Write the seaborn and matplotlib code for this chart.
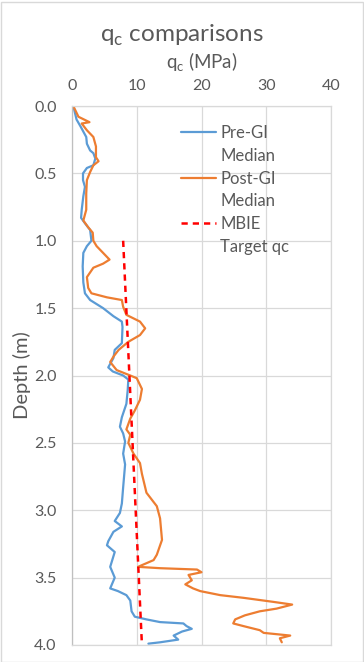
import matplotlib
matplotlib.use('Agg')
import matplotlib.pyplot as plt
import seaborn as sns
import pandas as pd
from matplotlib.lines import Line2D
from matplotlib.patches import Rectangle
from matplotlib.ticker import FormatStrFormatter

# ---------------- data ----------------
pre_depth = [0.0, 0.10, 0.15, 0.23, 0.28, 0.33, 0.35, 0.39, 0.44, 0.46, 0.50, 0.55, 0.60, 0.67,
             0.77, 0.83, 0.87, 0.92, 1.00, 1.04, 1.09, 1.19, 1.31, 1.39, 1.44, 1.50, 1.56, 1.60,
             1.64, 1.76, 1.81, 1.87, 1.94, 1.97, 2.00, 2.03, 2.11, 2.21, 2.31, 2.38, 2.43, 2.49,
             2.58, 2.66, 2.83, 2.95, 3.02, 3.08, 3.12, 3.16, 3.23, 3.26, 3.31, 3.42, 3.50, 3.58,
             3.60, 3.63, 3.67, 3.75, 3.79, 3.81, 3.83, 3.84, 3.86, 3.88, 3.90, 3.93, 3.96, 3.98, 3.99]
pre_qc = [0.2, 0.7, 1.3, 2.2, 2.3, 2.8, 3.3, 3.6, 3.3, 2.3, 1.7, 1.7, 2.0, 1.75,
          1.5, 1.4, 2.0, 2.8, 3.0, 2.3, 1.75, 1.65, 1.75, 2.0, 2.8, 4.8, 6.4, 7.7,
          7.8, 7.7, 6.6, 6.4, 5.6, 6.3, 7.9, 8.7, 8.6, 8.4, 7.7, 7.4, 7.9, 8.2,
          7.9, 8.2, 7.9, 7.7, 7.4, 6.6, 7.7, 6.4, 5.6, 5.4, 6.6, 5.9, 6.6, 5.9,
          7.1, 8.4, 9.0, 9.2, 9.7, 11.5, 13.6, 17.2, 17.7, 18.5, 17.0, 15.7, 16.4, 13.6, 11.8]

post_depth = [0.0, 0.08, 0.12, 0.13, 0.18, 0.23, 0.30, 0.38, 0.41, 0.44, 0.49, 0.55, 0.65, 0.77,
              0.85, 0.90, 0.94, 1.00, 1.04, 1.09, 1.14, 1.17, 1.20, 1.27, 1.35, 1.39, 1.42, 1.44,
              1.49, 1.55, 1.60, 1.65, 1.70, 1.75, 1.81, 1.86, 1.90, 1.96, 2.00, 2.02, 2.10, 2.18,
              2.26, 2.32, 2.40, 2.44, 2.50, 2.58, 2.65, 2.73, 2.87, 2.97, 3.06, 3.22, 3.33, 3.37,
              3.42, 3.43, 3.44, 3.46, 3.48, 3.52, 3.55, 3.58, 3.60, 3.63, 3.65, 3.68, 3.70, 3.73,
              3.75, 3.78, 3.81, 3.84, 3.86, 3.89, 3.91, 3.93, 3.95, 3.98]
post_qc = [0.2, 1.0, 2.7, 1.5, 2.3, 3.3, 3.7, 3.7, 4.1, 3.3, 2.8, 2.3, 2.2, 2.2,
           1.75, 2.5, 3.2, 3.3, 3.8, 4.8, 5.8, 4.8, 3.3, 2.3, 2.5, 3.0, 5.4, 7.7,
           7.9, 8.4, 10.5, 11.3, 10.5, 8.7, 7.2, 6.4, 5.9, 6.9, 9.0, 10.0, 10.8, 10.5,
           9.7, 9.0, 8.4, 9.0, 8.7, 9.5, 10.5, 10.8, 11.5, 13.1, 13.6, 13.9, 13.1, 12.6,
           10.2, 13.6, 19.3, 20.0, 18.0, 18.5, 17.5, 18.7, 19.8, 22.9, 26.5, 31.1, 34.0, 31.6,
           29.0, 26.7, 25.2, 24.9, 26.5, 29.0, 29.6, 33.7, 32.1, 32.4]

target_depth = [1.0, 4.0]
target_qc = [7.9, 10.8]

x_ticks = [0, 10, 20, 30, 40]
y_ticks = [0.0, 0.5, 1.0, 1.5, 2.0, 2.5, 3.0, 3.5, 4.0]

series_labels = ["Pre-GI", "Median", "Post-GI", "Median", "MBIE", "Target qc"]

# ---------------- style ----------------
sns.set_theme(style='white')
plt.rcParams['font.family'] = ['Lato', 'DejaVu Sans']
plt.rcParams['mathtext.fontset'] = 'custom'
plt.rcParams['mathtext.rm'] = 'Lato'
TXT = '#595959'
GRID = '#d9d9d9'
BLUE = '#5B9BD5'
ORANGE = '#ED7D31'
RED = '#FF0000'

W, H = 364, 662
fig = plt.figure(figsize=(W / 100, H / 100), dpi=100)
ax = fig.add_axes([72 / W, 1 - 645 / H, (331 - 72) / W, (645 - 106) / H])

pre_df = pd.DataFrame({'qc': pre_qc, 'depth': pre_depth})
post_df = pd.DataFrame({'qc': post_qc, 'depth': post_depth})
tgt_df = pd.DataFrame({'qc': target_qc, 'depth': target_depth})

sns.lineplot(data=pre_df, x='qc', y='depth', sort=False, estimator=None, ax=ax,
             color=BLUE, lw=1.6)
sns.lineplot(data=post_df, x='qc', y='depth', sort=False, estimator=None, ax=ax,
             color=ORANGE, lw=1.6)
sns.lineplot(data=tgt_df, x='qc', y='depth', sort=False, estimator=None, ax=ax,
             color=RED, lw=1.8, dashes=False, linestyle=(0, (2.5, 2.0)))

ax.set_xlim(0, 40)
ax.set_ylim(4.0, 0.0)
ax.set_xticks(x_ticks)
ax.set_yticks(y_ticks)
ax.yaxis.set_major_formatter(FormatStrFormatter('%.1f'))
ax.xaxis.tick_top()
ax.tick_params(axis='both', length=0, labelsize=11.5, labelcolor=TXT)
ax.tick_params(axis='x', pad=9)
ax.tick_params(axis='y', pad=11)
ax.set_xlabel('')
ax.set_ylabel('')
ax.grid(True, color=GRID, lw=0.9)
ax.set_axisbelow(True)
for s in ['top', 'right', 'bottom']:
    ax.spines[s].set_color(GRID)
    ax.spines[s].set_linewidth(0.9)
ax.spines['left'].set_color('#bfbfbf')
ax.spines['left'].set_linewidth(0.9)

# legend (two-line labels with the key next to the first line)
blank = Line2D([], [], color='none')
handles = [Line2D([], [], color=BLUE, lw=1.6), blank,
           Line2D([], [], color=ORANGE, lw=1.6), blank,
           Line2D([], [], color=RED, lw=1.8, linestyle=(0, (2.5, 2.0))), blank]
leg = ax.legend(handles, series_labels, loc='upper left',
                bbox_to_anchor=(181 / W, 1 - 125 / H), bbox_transform=fig.transFigure,
                frameon=False, fontsize=12, handlelength=2.1, handletextpad=0.25,
                labelspacing=0.41, borderpad=0, borderaxespad=0)
for t in leg.get_texts():
    t.set_color(TXT)

# titles
fig.text(0.499, 1 - 35 / H, 'q$_\\mathregular{c}$ comparisons', ha='center', va='center',
         fontsize=17.5, color=TXT)
fig.text(202 / W, 1 - 62 / H, 'q$_\\mathregular{c}$ (MPa)', ha='center', va='center',
         fontsize=13.5, color=TXT)
fig.text(22 / W, 1 - 375 / H, 'Depth (m)', ha='center', va='center', rotation=90,
         fontsize=14.5, color=TXT)

fig.patches.append(Rectangle((0.5 / W, 0.5 / H), 1 - 2 / W, 1 - 2 / H, transform=fig.transFigure,
                             fill=False, edgecolor=GRID, lw=1.0))

fig.savefig('out.png', dpi=100)
